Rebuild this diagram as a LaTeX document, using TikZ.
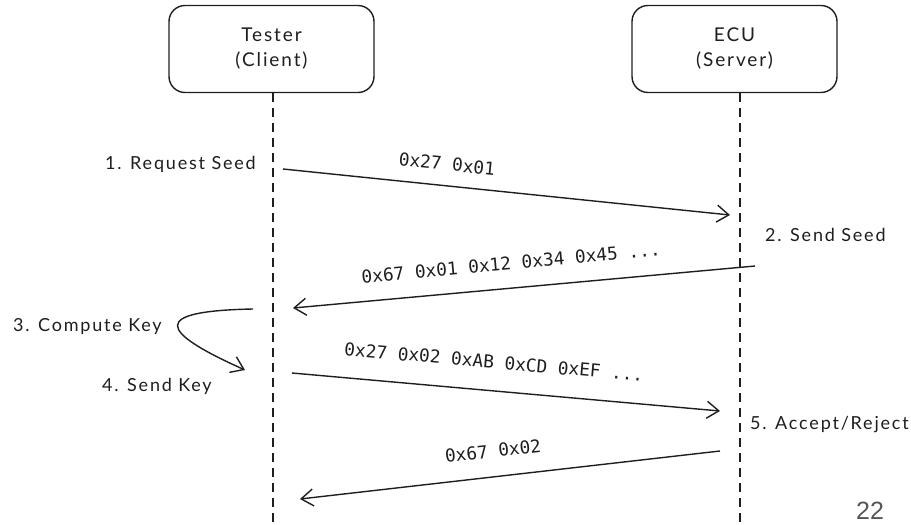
\documentclass[tikz,border=0pt]{standalone}
\usepackage{fontspec}
\setmainfont{Lato}
\newfontfamily\handfont[LetterSpace=10]{Lato}
\newfontfamily\hexfont{DejaVu Sans Mono}
\newfontfamily\pagefont{Liberation Sans}
\usetikzlibrary{arrows.meta}
\definecolor{ink}{HTML}{1E1E1E}
\definecolor{pagegray}{HTML}{555555}
\tikzset{
  actor/.style={draw=ink, line width=1.4pt, rounded corners=16pt, minimum width=205pt,
    minimum height=87pt, align=center, font=\handfont\fontsize{19}{25}\selectfont, text=ink},
  lifeline/.style={draw=ink, line width=1.3pt, dash pattern=on 9pt off 6pt},
  msg/.style={draw=ink, line width=1.4pt, -{Straight Barb[length=12pt,width=17pt,line width=1.4pt]}},
  hexlabel/.style={font=\hexfont\fontsize{17.8}{19}\selectfont, text=ink, inner sep=0pt},
  steplabel/.style={font=\handfont\fontsize{18}{19}\selectfont, text=ink, inner sep=0pt}
}
\begin{document}
\begin{tikzpicture}[x=1pt,y=-1pt]
  \useasboundingbox (0,0) rectangle (911,525);

  % participants
  \node[actor] (tester) at (271.5,49) {Tester\\(Client)};
  \node[actor] (ecu) at (734.5,49) {ECU\\(Server)};

  % lifeline ends
  \coordinate (tbot) at (273,525);
  \coordinate (ebot) at (740,525);
  \draw[lifeline] (tester.south -| tbot) -- (tbot);
  \draw[lifeline] (ecu.south -| ebot) -- (ebot);

  % message end points
  \coordinate (m1s) at (283,169);
  \coordinate (m1e) at (730,215);
  \coordinate (m2s) at (755,266);
  \coordinate (m2e) at (293,308);
  \coordinate (cks) at (253,309);
  \coordinate (cke) at (245,370);
  \coordinate (m3s) at (292,373);
  \coordinate (m3e) at (720,411);
  \coordinate (m4s) at (720,451);
  \coordinate (m4e) at (300,499);

  % messages
  \draw[msg] (m1s) -- (m1e);
  \draw[msg] (m2s) -- (m2e);
  \draw[msg] (cks) .. controls (150,311) and (158,331) .. (cke);
  \draw[msg] (m3s) -- (m3e);
  \draw[msg] (m4s) -- (m4e);

  % payloads
  \node[hexlabel, rotate=-5.8] (p1) at (447,164) {0x27 0x01};
  \node[hexlabel, rotate=5.2] (p2) at (511,263) {0x67 0x01 0x12 0x34 0x45 ...};
  \node[hexlabel, rotate=-5.0] (p3) at (494,362) {0x27 0x02 0xAB 0xCD 0xEF ...};
  \node[hexlabel, rotate=6.5] (p4) at (493,451) {0x67 0x02};

  % steps
  \node[steplabel, anchor=west] (s1) at (105,164) {1. Request Seed};
  \node[steplabel, anchor=west] (s2) at (765,235) {2. Send Seed};
  \node[steplabel, anchor=west] (s3) at (13,327) {3. Compute Key};
  \node[steplabel, anchor=west] (s4) at (102,386) {4. Send Key};
  \node[steplabel, anchor=west] (s5) at (750,425) {5. Accept/Reject};

  % page number
  \node[font=\pagefont\fontsize{25}{28}\selectfont, text=pagegray, inner sep=0pt] (page) at (870,511) {22};
\end{tikzpicture}
\end{document}
